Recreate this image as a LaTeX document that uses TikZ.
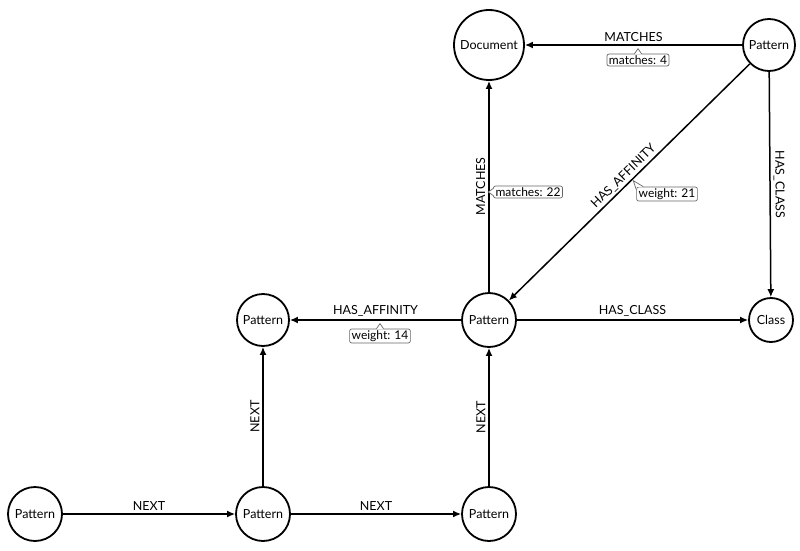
\documentclass[tikz,border=0pt]{standalone}
\usepackage{fontspec}
\setmainfont{Lato}
\usetikzlibrary{arrows.meta,calc}
\begin{document}
\begin{tikzpicture}[x=1pt,y=-1pt,
  nd/.style={circle,draw=black,line width=1.8pt,minimum size=52pt,inner sep=0pt,font=\fontsize{12.5}{14}\selectfont},
  rel/.style={line width=1.5pt,-{Latex[length=8pt,width=7pt]}},
  lbl/.style={font=\fontsize{12.5}{14}\selectfont,inner sep=1pt},
  prop/.style={draw=black!60,rounded corners=2pt,line width=0.7pt,fill=white,inner xsep=2pt,inner ysep=1.5pt,font=\fontsize{12}{13}\selectfont},
  caret/.style={draw=black!60,line width=0.7pt}]
\useasboundingbox[fill=white] (0,0) rectangle (800,551);
% nodes
\node[nd,minimum size=70pt] (doc) at (489,45) {Document};
\node[nd] (ptr) at (769,45) {Pattern};
\node[nd,minimum size=54pt] (pc) at (489,320) {Pattern};
\node[nd] (pl) at (263,320) {Pattern};
\node[nd,minimum size=44pt] (cls) at (771,320) {Class};
\node[nd,minimum size=54pt] (pb1) at (35,514) {Pattern};
\node[nd,minimum size=54pt] (pb2) at (263,514) {Pattern};
\node[nd,minimum size=54pt] (pb3) at (489,514) {Pattern};
% connectors
\draw[rel] (ptr) -- node[lbl,above=2pt] {MATCHES} (doc);
\draw[rel] (pc) -- node[lbl,sloped,above=2pt] {MATCHES} (doc);
\draw[rel] (ptr) -- node[lbl,sloped,above=1pt] {HAS\_AFFINITY} (pc);
\draw[rel] (ptr) -- node[lbl,sloped,above=2pt] {HAS\_CLASS} (cls);
\draw[rel] (pc) -- node[lbl,above=2pt] {HAS\_AFFINITY} (pl);
\draw[rel] (pc) -- node[lbl,above=2pt] {HAS\_CLASS} (cls);
\draw[rel] (pb1) -- node[lbl,above=2pt] {NEXT} (pb2);
\draw[rel] (pb2) -- node[lbl,above=2pt] {NEXT} (pb3);
\draw[rel] (pb2) -- node[lbl,sloped,above=2pt] {NEXT} (pl);
\draw[rel] (pb3) -- node[lbl,sloped,above=2pt] {NEXT} (pc);
% property callouts
\node[prop] (m4) at (638,60) {matches: 4};
\fill[white] ($(m4.north)+(-3.5,0.8)$) -- ($(m4.north)+(0,-5)$) -- ($(m4.north)+(3.5,0.8)$) -- cycle;
\draw[caret] ($(m4.north)+(-3.5,0)$) -- ($(m4.north)+(0,-5)$) -- ($(m4.north)+(3.5,0)$);
\node[prop] (w14) at (380,336) {weight: 14};
\fill[white] ($(w14.north)+(-3.5,0.8)$) -- ($(w14.north)+(0,-5)$) -- ($(w14.north)+(3.5,0.8)$) -- cycle;
\draw[caret] ($(w14.north)+(-3.5,0)$) -- ($(w14.north)+(0,-5)$) -- ($(w14.north)+(3.5,0)$);
\node[prop] (m22) at (528,192) {matches: 22};
\fill[white] ($(m22.west)+(0.8,-3.5)$) -- ($(m22.west)+(-5,0)$) -- ($(m22.west)+(0.8,3.5)$) -- cycle;
\draw[caret] ($(m22.west)+(0,-3.5)$) -- ($(m22.west)+(-5,0)$) -- ($(m22.west)+(0,3.5)$);
\node[prop] (w21) at (667,194) {weight: 21};
\fill[white] ($(w21.north west)+(0.8,3)$) -- ($(w21.north west)+(-3,-6)$) -- ($(w21.north west)+(7,0.8)$) -- (w21.north west) -- cycle;
\draw[caret] ($(w21.north west)+(0,3)$) -- ($(w21.north west)+(-3,-6)$) -- ($(w21.north west)+(7,0)$);
\end{tikzpicture}
\end{document}
